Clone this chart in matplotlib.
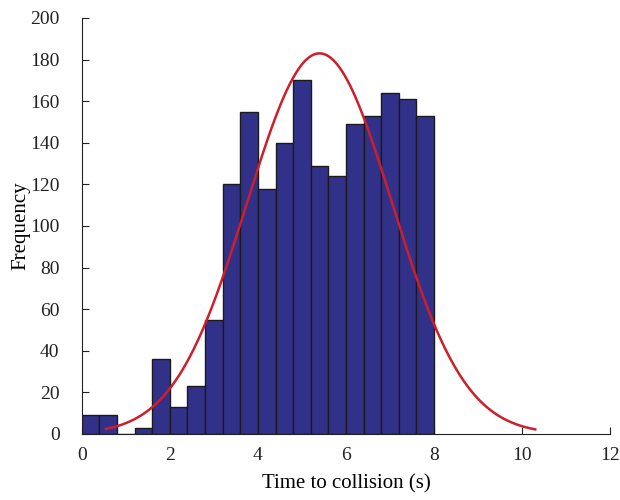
import numpy as np
import matplotlib
matplotlib.use("Agg")
import matplotlib.pyplot as plt

bin_edges = [0.0, 0.4, 0.8, 1.2, 1.6, 2.0, 2.4, 2.8, 3.2, 3.6, 4.0, 4.4, 4.8,
             5.2, 5.6, 6.0, 6.4, 6.8, 7.2, 7.6, 8.0]
counts = [9, 9, 0, 3, 36, 13, 23, 55, 120, 155, 118, 140, 170,
          129, 124, 149, 153, 164, 161, 153]

# fitted normal curve parameters
fit_mu = 5.4
fit_sigma = 1.65
fit_peak = 183
fit_range = (0.55, 10.3)

xticks = [0, 2, 4, 6, 8, 10, 12]
yticks = [0, 20, 40, 60, 80, 100, 120, 140, 160, 180, 200]

plt.rcParams['font.family'] = ['Liberation Serif', 'DejaVu Serif']

fig = plt.figure(figsize=(6.2, 5), dpi=100)
ax = fig.add_axes([0.132, 0.132, 0.852, 0.832])

edges = np.array(bin_edges)
ax.bar(edges[:-1], counts, width=np.diff(edges), align='edge',
       color='#32318a', edgecolor='#1a1a1a', linewidth=1.0, zorder=2)

xs = np.linspace(fit_range[0], fit_range[1], 400)
ys = fit_peak * np.exp(-(xs - fit_mu) ** 2 / (2 * fit_sigma ** 2))
ax.plot(xs, ys, color='#cc1f2a', linewidth=1.8, zorder=3)

ax.set_xlim(0, 12)
ax.set_ylim(0, 200)
ax.set_xticks(xticks)
ax.set_yticks(yticks)
ax.spines['top'].set_visible(False)
ax.spines['right'].set_visible(False)
ax.spines['left'].set_color('#222222')
ax.spines['bottom'].set_color('#222222')
ax.tick_params(direction='in', length=5, labelsize=14, colors='#222222')
ax.tick_params(axis='y', pad=16)
ax.tick_params(axis='x', pad=9)
ax.set_xlabel('Time to collision (s)', fontsize=15, labelpad=8)
ax.set_ylabel('Frequency', fontsize=15, labelpad=0)

fig.savefig('out.png', dpi=100)
